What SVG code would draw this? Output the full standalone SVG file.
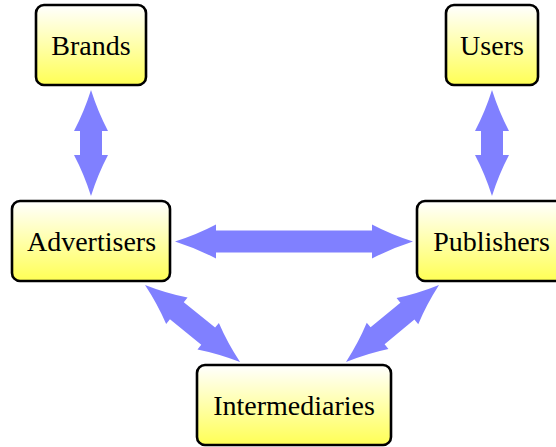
<svg xmlns="http://www.w3.org/2000/svg" width="556" height="447" viewBox="0 0 556 447">
  <defs>
    <linearGradient id="nodeFill" x1="0" y1="0" x2="0" y2="1">
      <stop offset="0" stop-color="#ffffff"/>
      <stop offset="1" stop-color="#ffff55"/>
    </linearGradient>
    <style>
      .box { fill: url(#nodeFill); stroke: #000; stroke-width: 2.6; }
      .link { fill: #8080ff; stroke: none; }
    </style>
  </defs>
  <rect width="556" height="447" fill="#ffffff"/>

  <!-- double-headed arrows, drawn along local x from 0 to the length and rotated into place -->
  <g id="connectors">
    <path class="link" transform="translate(91,90) rotate(90)" d="M0,0 Q22,-7 41,-17 V-11 H65 V-17 Q84,-7 106,0 Q84,7 65,17 V11 H41 V17 Q22,7 0,0 Z"/>
    <path class="link" transform="translate(492,90) rotate(90)" d="M0,0 Q22,-7 41,-17 V-11 H65 V-17 Q84,-7 106,0 Q84,7 65,17 V11 H41 V17 Q22,7 0,0 Z"/>
    <path class="link" transform="translate(175,241.5)" d="M0,0 Q22,-7 41,-17 V-11 H197 V-17 Q216,-7 238,0 Q216,7 197,17 V11 H41 V17 Q22,7 0,0 Z"/>
    <path class="link" transform="translate(145,285) rotate(39)" d="M0,0 Q22,-7 41,-17 V-11 H81.3 V-17 Q100.3,-7 122.3,0 Q100.3,7 81.3,17 V11 H41 V17 Q22,7 0,0 Z"/>
    <path class="link" transform="translate(439,285) rotate(140.4)" d="M0,0 Q22,-7 41,-17 V-11 H79.7 V-17 Q98.7,-7 120.7,0 Q98.7,7 79.7,17 V11 H41 V17 Q22,7 0,0 Z"/>
  </g>

  <g id="brands">
    <rect class="box" x="36" y="5" width="110" height="80" rx="8"/>
    <text x="91" y="54.5" text-anchor="middle" font-family="'Liberation Serif', serif" font-size="28">Brands</text>
  </g>
  <g id="users">
    <rect class="box" x="446" y="5" width="92" height="80" rx="8"/>
    <text x="492" y="54.5" text-anchor="middle" font-family="'Liberation Serif', serif" font-size="28">Users</text>
  </g>
  <g id="advertisers">
    <rect class="box" x="12" y="201" width="158" height="80" rx="8"/>
    <text x="91.5" y="251" text-anchor="middle" font-family="'Liberation Serif', serif" font-size="28">Advertisers</text>
  </g>
  <g id="publishers">
    <rect class="box" x="417" y="201" width="148" height="80" rx="8"/>
    <text x="491.5" y="251" text-anchor="middle" font-family="'Liberation Serif', serif" font-size="28">Publishers</text>
  </g>
  <g id="intermediaries">
    <rect class="box" x="197" y="365" width="194" height="80" rx="8"/>
    <text x="294" y="415" text-anchor="middle" font-family="'Liberation Serif', serif" font-size="28">Intermediaries</text>
  </g>
</svg>
